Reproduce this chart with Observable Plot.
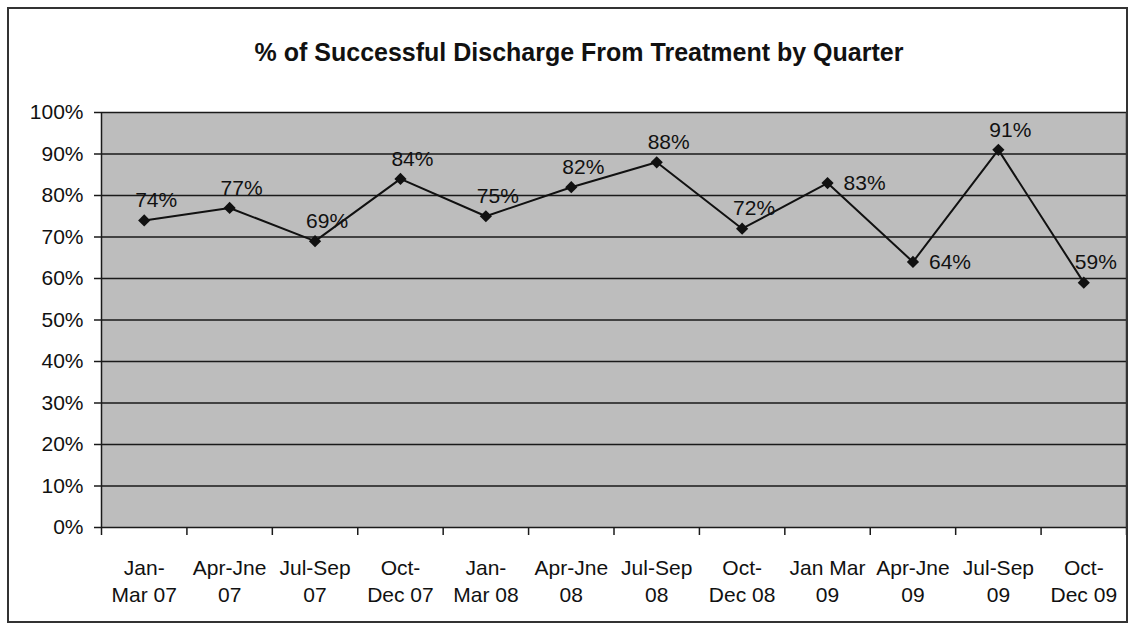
<!DOCTYPE html>
<html>
<head>
<meta charset="utf-8">
<script src="https://cdn.jsdelivr.net/npm/d3@7"></script>
<script src="https://cdn.jsdelivr.net/npm/@observablehq/plot@0.6"></script>
<style>
  html, body { margin: 0; padding: 0; background: #fff; }
  #wrap { position: relative; width: 1133px; height: 627px; }
  #border { position: absolute; left: 7px; top: 7px; width: 1121px; height: 616px; border: 2px solid #333; box-sizing: border-box; pointer-events: none; }
</style>
</head>
<body>
<div id="wrap"><div id="border"></div></div>
<script>
const title = "% of Successful Discharge From Treatment by Quarter";
const categories = [
  "Jan-\nMar 07", "Apr-Jne\n07", "Jul-Sep\n07", "Oct-\nDec 07",
  "Jan-\nMar 08", "Apr-Jne\n08", "Jul-Sep\n08", "Oct-\nDec 08",
  "Jan Mar\n09", "Apr-Jne\n09", "Jul-Sep\n09", "Oct-\nDec 09"
];
const values = [0.74, 0.77, 0.69, 0.84, 0.75, 0.82, 0.88, 0.72, 0.83, 0.64, 0.91, 0.59];
const yTicks = [0, 0.1, 0.2, 0.3, 0.4, 0.5, 0.6, 0.7, 0.8, 0.9, 1.0];

const data = categories.map((c, i) => ({i, cat: c, v: values[i]}));
const pct = d3.format(".0%");
const X = d => d.i + 0.5;
const rightPlaced = new Set([8, 9]);
const boundaries = d3.range(categories.length + 1);

const chart = Plot.plot({
  width: 1133,
  height: 627,
  marginLeft: 101,
  marginRight: 7,
  marginTop: 112,
  marginBottom: 100,
  style: {fontFamily: "'Liberation Sans', Arial, sans-serif", fontSize: "21px", color: "#111", background: "transparent"},
  x: {domain: [0, categories.length], axis: null},
  y: {domain: [0, 1], axis: null},
  marks: [
    Plot.frame({fill: "#bdbdbd", stroke: null}),
    Plot.gridY(yTicks, {stroke: "#1a1a1a", strokeOpacity: 1, strokeWidth: 1.5}),
    Plot.ruleX([0], {stroke: "#1a1a1a", strokeWidth: 1.5}),
    Plot.ruleX([categories.length], {stroke: "#333", strokeWidth: 1.5}),
    Plot.axisY({ticks: yTicks, tickFormat: pct, tickSize: 7, tickPadding: 11, fontSize: 21, stroke: "#1a1a1a", strokeWidth: 1.5, label: null}),
    Plot.axisX({ticks: boundaries, tickFormat: () => "", tickSize: 8, stroke: "#1a1a1a", strokeWidth: 1.5, label: null}),
    Plot.text(data, {x: X, frameAnchor: "bottom", dy: 28, text: "cat", lineAnchor: "top", lineHeight: 1.29, fontSize: 21, fill: "#111"}),
    Plot.line(data, {x: X, y: "v", stroke: "#111", strokeWidth: 2}),
    Plot.dot(data, {x: X, y: "v", symbol: "diamond2", r: 5.5, fill: "#111", stroke: null}),
    Plot.text(data.filter(d => !rightPlaced.has(d.i)), {x: X, y: "v", text: d => pct(d.v), dx: 12, dy: -20, fontSize: 21, fill: "#111"}),
    Plot.text(data.filter(d => rightPlaced.has(d.i)), {x: X, y: "v", text: d => pct(d.v), dx: 16, dy: 0, textAnchor: "start", fontSize: 21, fill: "#111"}),
    Plot.text([title], {text: d => d, frameAnchor: "top", dx: -35, dy: -69, fontSize: 25, fontWeight: "bold", fill: "#111"})
  ]
});
document.getElementById("wrap").prepend(chart);
</script>
</body>
</html>
